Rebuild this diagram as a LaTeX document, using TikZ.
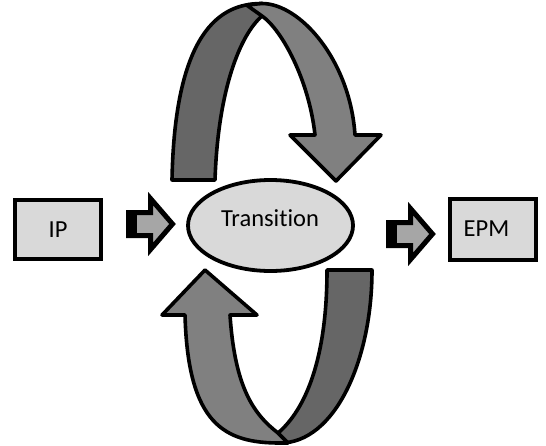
\documentclass[tikz,border=0pt]{standalone}
\usepackage{fontspec}
\setmainfont{Carlito}[Ligatures=NoCommon]
\usetikzlibrary{shapes.geometric}
\definecolor{bandDark}{HTML}{666666}
\definecolor{bandLight}{HTML}{808080}
\definecolor{boxFill}{HTML}{D9D9D9}
\definecolor{tipFill}{HTML}{A6A6A6}
\begin{document}
\begin{tikzpicture}[x=1pt,y=-1pt,
  ribbon/.style={draw=black,line width=3.6pt,line join=round},
  darkband/.style={ribbon,fill=bandDark},
  lightband/.style={ribbon,fill=bandLight},
  stagebox/.style={draw=black,line width=4pt,fill=boxFill,
    minimum width=86pt,inner sep=0pt},
  stagetext/.style={font=\fontsize{24.5}{29}\selectfont,inner sep=0pt,text=black},
  stubarrow/.pic={
    \draw[fill=tipFill,draw=black,line width=5pt,miter limit=10]
      (2.5,2.5) -- (24.5,2.5) -- (24.5,-11.5) -- (46.5,14) -- (24.5,39.5)
      -- (24.5,25.5) -- (2.5,25.5) -- cycle;
    \fill[black] (0,0) rectangle (11,28);
  }]
\useasboundingbox (0,0) rectangle (546,445);
\fill[white] (0,0) rectangle (546,445);

% upper loop: back half (dark), front half with head (light)
\draw[darkband]
  (172,180) .. controls (175,20) and (228,3.5) .. (262,3.5)
  -- (262,16) .. controls (240,35) and (218,90) .. (215,180) -- cycle;
\draw[lightband]
  (246.5,5) -- (262,3.5) .. controls (300,3.5) and (350,60) .. (355,135)
  -- (381,135) -- (336,181) -- (290,135) -- (315,135)
  .. controls (309,80) and (282,30) .. (262,16) -- cycle;

% lower loop: back half (dark), front half with head (light)
\draw[darkband]
  (280,443) .. controls (335,443) and (372,360) .. (372,270)
  -- (327,270) .. controls (327,360) and (305,410) .. (278,433) -- cycle;
\draw[lightband]
  (230,315) -- (257,315) -- (205,270) -- (162,315) -- (185,315)
  .. controls (188,425) and (225,443) .. (280,443) -- (288,443)
  -- (278,433) .. controls (255,415) and (235,390) .. (230,315) -- cycle;

% stages
\node[stagebox,minimum height=59pt,stagetext] (ip) at (58,229.5) {IP};
\node[stagebox,minimum height=61pt] (epm) at (493,229.5) {};
\node[stagetext,anchor=base] (epmtext) at (486.5,236.7) {EPM};

\node[ellipse,draw=black,line width=3.8pt,fill=boxFill,
  minimum width=165pt,minimum height=91pt,inner sep=0pt] (trans) at (270.5,225.5) {};
\node[stagetext,anchor=base] (transtext) at (270,226.7) {Transition};

% block arrows between the stages
\pic at (126,210) {stubarrow};
\pic at (386,220) {stubarrow};
\end{tikzpicture}
\end{document}
